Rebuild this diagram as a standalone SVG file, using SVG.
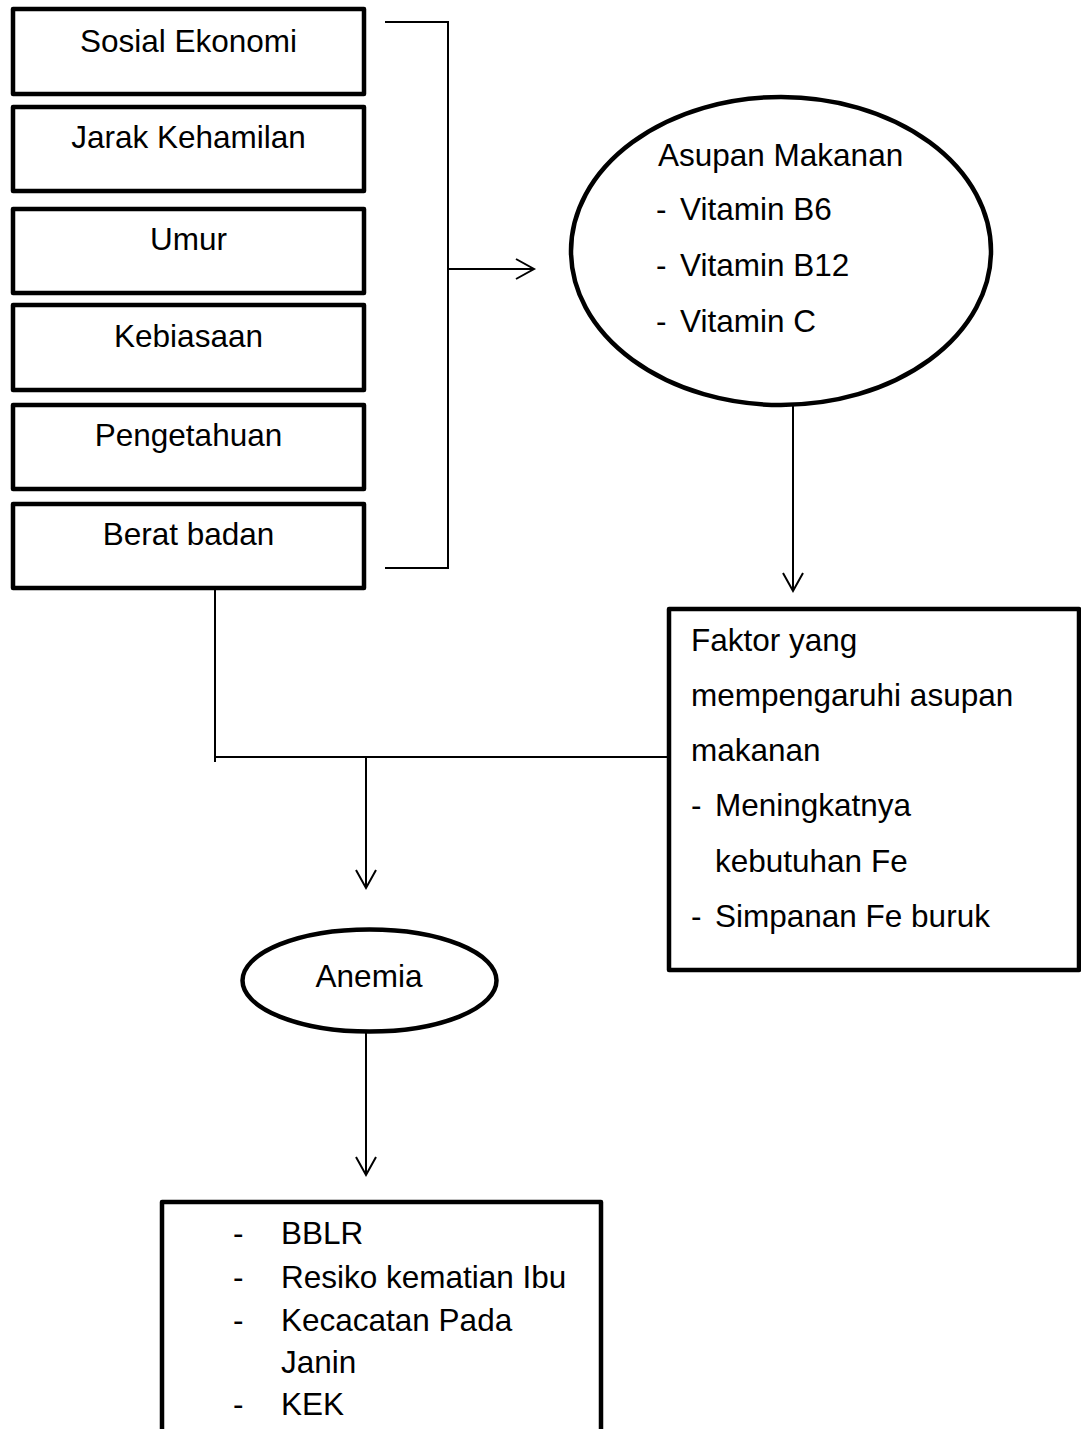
<svg xmlns="http://www.w3.org/2000/svg" width="1081" height="1429" viewBox="0 0 1081 1429">
<defs>
<style>
.box{fill:#fff;stroke:#000;stroke-width:4.5;stroke-linejoin:round}
.t{font-family:"Liberation Sans",Arial,sans-serif;font-size:31.5px;fill:#000}
.c{text-anchor:middle}
.ln{fill:none;stroke:#000;stroke-width:2}
</style>
<marker id="ah" markerUnits="userSpaceOnUse" markerWidth="24" markerHeight="24" viewBox="-20 -12 24 24" refX="0" refY="0" orient="auto">
<path d="M-18,-10 L0,0 L-18,10" fill="none" stroke="#000" stroke-width="2"/>
</marker>
</defs>
<rect width="1081" height="1429" fill="#fff"/>

<g id="connectors">
<path class="ln" d="M385,22 H448 V568 H385"/>
<path class="ln" d="M448,269 H534" marker-end="url(#ah)"/>
<path class="ln" d="M793,400 V591" marker-end="url(#ah)"/>
<path class="ln" d="M215,590 V762"/>
<path class="ln" d="M215,757 H669"/>
<path class="ln" d="M366,757 V888" marker-end="url(#ah)"/>
<path class="ln" d="M366,1033 V1175" marker-end="url(#ah)"/>
</g>

<g id="n-sosial">
<rect class="box" x="13" y="9" width="351" height="85"/>
<text class="t c" x="188.5" y="52">Sosial Ekonomi</text>
</g>
<g id="n-jarak">
<rect class="box" x="13" y="107" width="351" height="84"/>
<text class="t c" x="188.5" y="148">Jarak Kehamilan</text>
</g>
<g id="n-umur">
<rect class="box" x="13" y="209" width="351" height="84"/>
<text class="t c" x="188.5" y="250">Umur</text>
</g>
<g id="n-kebiasaan">
<rect class="box" x="13" y="305" width="351" height="85"/>
<text class="t c" x="188.5" y="347">Kebiasaan</text>
</g>
<g id="n-pengetahuan">
<rect class="box" x="13" y="405" width="351" height="84"/>
<text class="t c" x="188.5" y="446">Pengetahuan</text>
</g>
<g id="n-berat">
<rect class="box" x="13" y="504" width="351" height="84"/>
<text class="t c" x="188.5" y="545">Berat badan</text>
</g>

<g id="n-asupan">
<ellipse class="box" cx="781" cy="251" rx="210" ry="154"/>
<text class="t" x="658" y="166">Asupan Makanan</text>
<text class="t" x="656" y="220">-</text><text class="t" x="680" y="220">Vitamin B6</text>
<text class="t" x="656" y="276">-</text><text class="t" x="680" y="276">Vitamin B12</text>
<text class="t" x="656" y="332">-</text><text class="t" x="680" y="332">Vitamin C</text>
</g>

<g id="n-faktor">
<rect class="box" x="669" y="609" width="410" height="361"/>
<text class="t" x="691" y="651">Faktor yang</text>
<text class="t" x="691" y="706">mempengaruhi asupan</text>
<text class="t" x="691" y="761">makanan</text>
<text class="t" x="691" y="816">-</text><text class="t" x="715" y="816">Meningkatnya</text>
<text class="t" x="715" y="872">kebutuhan Fe</text>
<text class="t" x="691" y="927">-</text><text class="t" x="715" y="927">Simpanan Fe buruk</text>
</g>

<g id="n-anemia">
<ellipse class="box" cx="369.5" cy="980.5" rx="127" ry="51"/>
<text class="t c" x="369" y="987">Anemia</text>
</g>

<g id="n-dampak">
<path class="box" d="M162,1440 V1202 H601 V1440"/>
<text class="t" x="233" y="1244">-</text><text class="t" x="281" y="1244">BBLR</text>
<text class="t" x="233" y="1288">-</text><text class="t" x="281" y="1288">Resiko kematian Ibu</text>
<text class="t" x="233" y="1331">-</text><text class="t" x="281" y="1331">Kecacatan Pada</text>
<text class="t" x="281" y="1373">Janin</text>
<text class="t" x="233" y="1415">-</text><text class="t" x="281" y="1415">KEK</text>
</g>
</svg>
